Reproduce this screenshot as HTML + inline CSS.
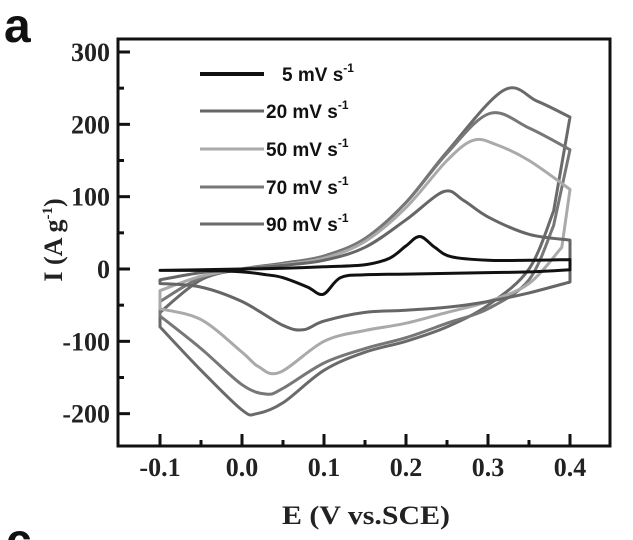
<!DOCTYPE html>
<html><head><meta charset="utf-8">
<style>
html,body{margin:0;background:#fff;width:633px;height:540px;overflow:hidden}
svg{display:block;overflow:hidden}
.tk{font-family:"Liberation Serif",serif;font-weight:bold;font-size:26px;fill:#222}
.lg{font-family:"Liberation Sans",sans-serif;font-weight:bold;font-size:19px;fill:#111}
</style></head><body>
<svg id="chart" width="633" height="540" viewBox="0 0 633 540">
<text x="4" y="42" font-family="Liberation Sans,sans-serif" font-weight="bold" font-size="48" fill="#111">a</text>
<text x="6" y="556" font-family="Liberation Sans,sans-serif" font-weight="bold" font-size="46" fill="#111">c</text>
<rect x="118" y="39" width="492" height="407" fill="none" stroke="#111" stroke-width="3"/>
<g id="axes"></g>
<g id="series"></g>
<g id="legend"></g>
<text x="366" y="524" text-anchor="middle" class="tk" font-size="29" textLength="168" lengthAdjust="spacingAndGlyphs">E (V vs.SCE)</text>
<text transform="translate(62,240) rotate(-90)" text-anchor="middle" class="tk" font-size="27">I (A g<tspan dy="-10" font-size="15">-1</tspan><tspan dy="10">)</tspan></text>
</svg>
<script>
const xTicks=[-0.1,0.0,0.1,0.2,0.3,0.4];
const xTickLabels=["-0.1","0.0","0.1","0.2","0.3","0.4"];
const yTicks=[-200,-100,0,100,200,300];
const yTickLabels=["-200","-100","0","100","200","300"];
const seriesNames=["5 mV s","20 mV s","50 mV s","70 mV s","90 mV s"];
const seriesColors=["#111","#666","#aaa","#777","#6a6a6a"];
const e5=[-0.1,-0.05,0,0.05,0.1,0.15,0.18,0.2,0.217,0.235,0.255,0.3,0.35,0.4,0.4,0.35,0.3,0.2,0.15,0.12,0.099,0.08,0.05,0.03,0,-0.05,-0.1];
const i5=[-2,-1,0,1,3,6,15,32,45,30,17,12,12,13,-1,-4,-5,-7,-8,-12,-35,-25,-12,-8,-4,-2,-2];
const e20=[-0.1,-0.05,0,0.05,0.1,0.15,0.2,0.246,0.27,0.3,0.35,0.4,0.4,0.35,0.3,0.25,0.2,0.15,0.1,0.075,0.05,0,-0.05,-0.1];
const i20=[-15,-5,0,5,12,30,68,107,95,72,48,40,-18,-33,-45,-53,-57,-60,-72,-84,-78,-45,-25,-20];
const e50=[-0.1,-0.05,0,0.05,0.1,0.15,0.2,0.25,0.282,0.31,0.35,0.4,0.39,0.35,0.3,0.25,0.2,0.15,0.1,0.046,0.02,0,-0.05,-0.1];
const i50=[-30,-10,0,6,15,38,85,150,178,172,150,110,30,-20,-45,-60,-75,-85,-100,-143,-135,-115,-70,-55];
const e70=[-0.1,-0.05,0,0.05,0.1,0.15,0.2,0.25,0.302,0.35,0.4,0.38,0.35,0.3,0.25,0.2,0.15,0.1,0.05,0.03,0,-0.05,-0.1];
const i70=[-45,-12,0,7,18,42,92,160,215,195,165,60,-15,-55,-75,-95,-110,-130,-165,-173,-160,-110,-65];
const e90=[-0.1,-0.05,0,0.05,0.1,0.15,0.2,0.25,0.319,0.36,0.4,0.38,0.35,0.3,0.25,0.2,0.15,0.1,0.05,0.018,0,-0.05,-0.1];
const i90=[-60,-15,0,8,18,42,92,162,247,232,210,80,0,-50,-80,-100,-115,-140,-185,-200,-195,-140,-80];
const seriesE=[e5,e20,e50,e70,e90];
const seriesI=[i5,i20,i50,i70,i90];

const NS="http://www.w3.org/2000/svg";
function xs(e){return 242+820*e;}
function ys(v){return 269-0.7233*v;}
function mk(tag,attrs,parent){const el=document.createElementNS(NS,tag);for(const k in attrs)el.setAttribute(k,attrs[k]);parent.appendChild(el);return el;}
const axes=document.getElementById('axes');
xTicks.forEach((t,k)=>{
  const l=mk('line',{x1:xs(t),x2:xs(t),y1:446,y2:434,stroke:'#111','stroke-width':3},axes);
  
  
  if(k<xTicks.length-1){
    const m=mk('line',{x1:xs(t+0.05),x2:xs(t+0.05),y1:446,y2:440,stroke:'#111','stroke-width':3},axes);
    
    
  }
  const tx=mk('text',{x:xs(t),y:476,'text-anchor':'middle',class:'tk'},axes);
  tx.textContent=xTickLabels[k];
  
  
});
yTicks.forEach((t,k)=>{
  const l=mk('line',{x1:118,x2:130,y1:ys(t),y2:ys(t),stroke:'#111','stroke-width':3},axes);
  
  
  if(k<yTicks.length-1){
    const m=mk('line',{x1:118,x2:124,y1:ys(t+50),y2:ys(t+50),stroke:'#111','stroke-width':3},axes);
    
    
  }
  const tx=mk('text',{x:110,y:ys(t)+9,'text-anchor':'end',class:'tk'},axes);
  tx.textContent=yTickLabels[k];
  
  
});
function seg(pts,start){
  let d=(start?'M':'L')+pts[0][0].toFixed(1)+','+pts[0][1].toFixed(1);
  for(let i=0;i<pts.length-1;i++){
    const p0=pts[Math.max(0,i-1)],p1=pts[i],p2=pts[i+1],p3=pts[Math.min(pts.length-1,i+2)];
    const c1=[p1[0]+(p2[0]-p0[0])/6,p1[1]+(p2[1]-p0[1])/6];
    const c2=[p2[0]-(p3[0]-p1[0])/6,p2[1]-(p3[1]-p1[1])/6];
    d+='C'+c1[0].toFixed(1)+','+c1[1].toFixed(1)+' '+c2[0].toFixed(1)+','+c2[1].toFixed(1)+' '+p2[0].toFixed(1)+','+p2[1].toFixed(1);
  }
  return d;
}
const sg=document.getElementById('series');
for(let s=seriesE.length-1;s>=0;s--){
  const E=seriesE[s];
  let turn=0;E.forEach((e,i)=>{if(e>E[turn])turn=i;});
  const pts=E.map((e,i)=>[xs(e),ys(seriesI[s][i])]);
  const d=seg(pts.slice(0,turn+1),true)+seg(pts.slice(turn+1),false)+'Z';
  const p=mk('path',{d:d,fill:'none',stroke:seriesColors[s],'stroke-width':3,'stroke-linejoin':'round'},sg);
  
  
}
const lg=document.getElementById('legend');
const legY=[74,111,149,187,224];
seriesNames.forEach((n,k)=>{
  const g=mk('g',{},lg);
  
  
  mk('line',{x1:200,x2:264,y1:legY[k],y2:legY[k],stroke:seriesColors[k],'stroke-width':k===0?4:3},g);
  const t=mk('text',{x:k===0?282:266,y:legY[k]+7,class:'lg'},g);
  t.innerHTML=n+'<tspan dy="-9" font-size="12">-1</tspan>';
});
</script>
</body></html>
